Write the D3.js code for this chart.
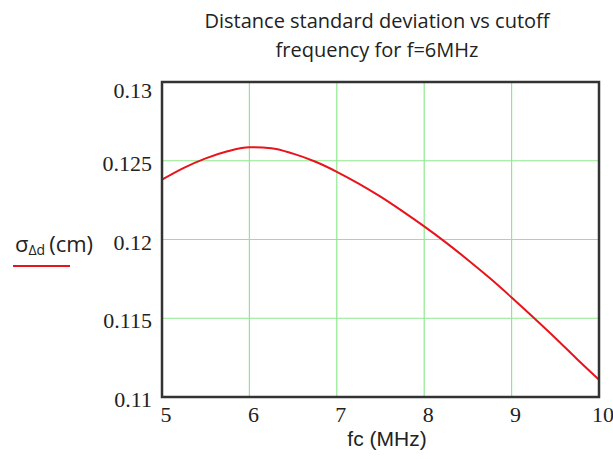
<!DOCTYPE html>
<html>
<head>
<meta charset="utf-8">
<script src="https://cdn.jsdelivr.net/npm/d3@7"></script>
<style>
  html, body { margin: 0; padding: 0; background: #fff; }
  svg { display: block; }
</style>
</head>
<body>
<div class="chart"></div>
<script>
// data
var fcValues = [5, 5.25, 5.5, 5.75, 6, 6.25, 6.5, 6.75, 7, 7.25, 7.5, 7.75, 8, 8.25, 8.5, 8.75, 9, 9.25, 9.5, 9.75, 10];
var sigmaValues = [0.1238, 0.12455, 0.12515, 0.1256, 0.12586, 0.1258, 0.12545, 0.12495, 0.1243, 0.12355, 0.12272, 0.1218,
                   0.12083, 0.1198, 0.1187, 0.11755, 0.11632, 0.11505, 0.11375, 0.1124, 0.1111];
var xTicks = [5, 6, 7, 8, 9, 10];
var yTicks = [0.11, 0.115, 0.12, 0.125, 0.13];
var yTickLabels = ['0.11', '0.115', '0.12', '0.125', '0.13'];
var titleLines = ['Distance standard deviation vs cutoff', 'frequency for f=6MHz'];

var W = 613, H = 459;
var plot = {left: 162, right: 599, top: 82, bottom: 397};

var svg = d3.select('.chart').append('svg')
    .attr('width', W)
    .attr('height', H);

var x = d3.scaleLinear().domain([5, 10]).range([plot.left, plot.right]);
var y = d3.scaleLinear().domain([0.11, 0.13]).range([plot.bottom, plot.top]);

// grid
svg.append('g').selectAll('line.vg')
    .data(xTicks.slice(1, -1))
    .enter().append('line')
    .attr('x1', d => x(d)).attr('x2', d => x(d))
    .attr('y1', plot.top).attr('y2', plot.bottom)
    .attr('stroke', '#8fe88f').attr('stroke-width', 1.2);

svg.append('g').selectAll('line.hg')
    .data(yTicks.slice(1, -1))
    .enter().append('line')
    .attr('y1', d => y(d)).attr('y2', d => y(d))
    .attr('x1', plot.left).attr('x2', plot.right)
    .attr('stroke', '#8fe88f').attr('stroke-width', 1.2);

// curve
var line = d3.line()
    .x((d, i) => x(fcValues[i]))
    .y(d => y(d))
    .curve(d3.curveMonotoneX);

svg.append('path')
    .datum(sigmaValues)
    .attr('d', line)
    .attr('fill', 'none')
    .attr('stroke', '#e8141b')
    .attr('stroke-width', 2);

// frame
svg.append('rect')
    .attr('x', plot.left).attr('y', plot.top)
    .attr('width', plot.right - plot.left)
    .attr('height', plot.bottom - plot.top)
    .attr('fill', 'none')
    .attr('stroke', '#333')
    .attr('stroke-width', 2.5);

// tick labels
svg.append('g').selectAll('text')
    .data(yTicks)
    .enter().append('text')
    .attr('x', plot.left - 10)
    .attr('y', (d, i) => i == yTicks.length - 1 ? y(d) + 16 : y(d) + 10)
    .attr('text-anchor', 'end')
    .attr('font-family', '"Liberation Serif", "Times New Roman", serif')
    .attr('font-size', 22)
    .attr('fill', '#222')
    .text((d, i) => yTickLabels[i]);

svg.append('g').selectAll('text')
    .data(xTicks)
    .enter().append('text')
    .attr('x', d => x(d) + 4)
    .attr('y', plot.bottom + 25)
    .attr('text-anchor', 'middle')
    .attr('font-family', '"Liberation Serif", "Times New Roman", serif')
    .attr('font-size', 22)
    .attr('fill', '#222')
    .text(d => d);

// axis titles
svg.append('text')
    .attr('x', 387)
    .attr('y', 446)
    .attr('text-anchor', 'middle')
    .attr('font-family', '"Liberation Sans", Arial, sans-serif')
    .attr('font-size', 21)
    .attr('fill', '#222')
    .text('fc (MHz)');

var yl = svg.append('text')
    .attr('x', 15)
    .attr('y', 252)
    .attr('font-family', '"Open Sans", sans-serif')
    .attr('font-size', 22)
    .attr('fill', '#222');
yl.append('tspan').text('σ');
yl.append('tspan').attr('font-size', 14).attr('dy', 3).text('Δd');
yl.append('tspan').attr('dy', -3).attr('dx', 4).text('(cm)');

svg.append('line')
    .attr('x1', 13).attr('x2', 70)
    .attr('y1', 266).attr('y2', 266)
    .attr('stroke', '#e8141b')
    .attr('stroke-width', 2);

// title
svg.append('g').selectAll('text')
    .data(titleLines)
    .enter().append('text')
    .attr('x', 377)
    .attr('y', (d, i) => 28 + i * 29)
    .attr('text-anchor', 'middle')
    .attr('font-family', '"Open Sans", sans-serif')
    .attr('font-size', 20)
    .attr('fill', '#222')
    .text(d => d);
</script>
</body>
</html>
